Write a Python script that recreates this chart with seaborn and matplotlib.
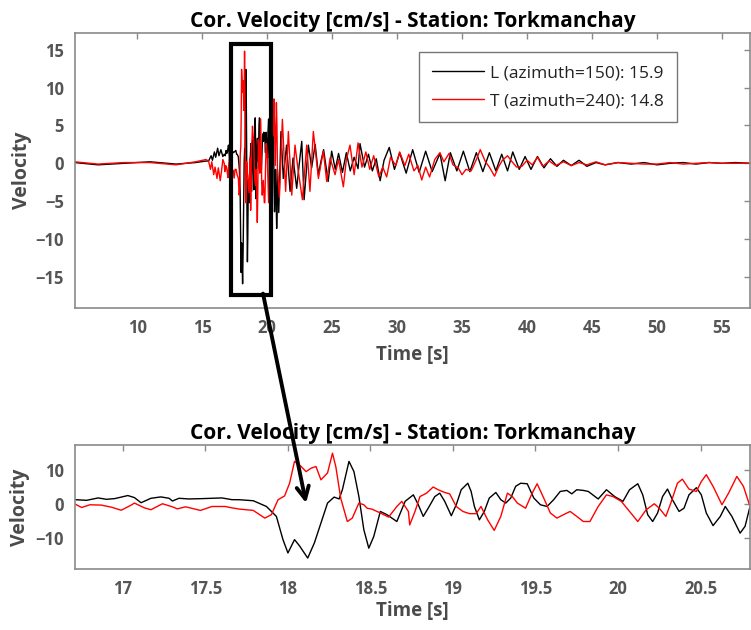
import numpy as np
import pandas as pd
import matplotlib
matplotlib.use('Agg')
import matplotlib.pyplot as plt
import matplotlib.patches as patches
import seaborn as sns

# L component (black) - quiet part, detail window, coda
t_L_pre = [5.2, 7.0, 9.0, 11.0, 13.0, 14.5, 15.3, 15.5, 15.7, 15.8, 15.95, 16.05, 16.2, 16.3, 16.45, 16.6]
v_L_pre = [0.1, -0.2, 0.0, 0.2, -0.1, 0.1, 0.3, 0.3, 1.0, 0.4, 1.5, 0.8, 2.0, 1.0, 1.8, 0.9]

t_L_zoom = [16.707, 16.78, 16.85, 16.9, 16.95, 17.03, 17.07, 17.11, 17.17, 17.23, 17.28, 17.3, 17.34, 17.4, 17.48,
            17.6, 17.66, 17.707, 17.79, 17.87, 17.93, 17.97, 18.0, 18.04, 18.07, 18.12, 18.16, 18.2, 18.24, 18.28,
            18.31, 18.33, 18.37, 18.4, 18.43, 18.46, 18.49, 18.52, 18.56, 18.6, 18.66, 18.71, 18.76, 18.79, 18.82,
            18.85, 18.89, 18.92, 18.95, 18.99, 19.02, 19.05, 19.09, 19.11, 19.13, 19.16, 19.19, 19.22, 19.26, 19.29,
            19.32, 19.35, 19.38, 19.41, 19.45, 19.49, 19.53, 19.57, 19.61, 19.65, 19.69, 19.72, 19.75, 19.79, 19.82,
            19.88, 19.93, 19.98, 20.03, 20.07, 20.12, 20.15, 20.18, 20.21, 20.24, 20.27, 20.3, 20.33, 20.37, 20.4,
            20.43, 20.475, 20.505, 20.535, 20.576, 20.62, 20.65, 20.69, 20.74, 20.77, 20.8]
v_L_zoom = [1.2, 1.0, 1.7, 1.3, 1.5, 2.4, 1.8, 0.3, 1.6, 2.0, 1.6, 0.8, 1.6, 1.4, 1.5,
            1.7, 1.2, 1.17, 0.88, -0.8, -3.7, -10.5, -14.4, -10.5, -12.3, -15.9, -11.5, -5.6, 0.2, 1.95,
            1.4, 4.1, 12.4, 9.4, 2.1, -7.6, -13.0, -9.6, -2.25, -3.2, -5.2, 0.7, 2.6, -0.3, -3.7,
            -1.3, 2.1, 3.1, 0.7, -3.5, -0.3, 4.1, 6.0, 3.6, -0.8, -4.7, -2.25, 1.66, 3.3, 1.17,
            0.2, 1.66, 5.1, 6.0, 5.85, 1.66, -0.3, -0.8, 1.17, 3.6, 3.9, 2.9, 4.1, 3.9, 3.6,
            1.4, 4.1, 2.1, 0.7, 4.1, 5.85, 2.6, -3.2, -5.2, -2.7, 2.1, 4.3, 1.17, -2.25, -1.3,
            2.6, 4.7, 2.6, -2.7, -6.4, -3.7, -0.8, -3.7, -8.6, -6.6, -0.8]

t_L_post = [20.9, 21.07, 21.25, 21.5, 21.77, 22.0, 22.28, 22.45, 22.67, 22.85, 23.18, 23.43, 23.7, 23.95, 24.15,
            24.35, 24.7, 24.97, 25.25, 25.5, 25.8, 26.1, 26.4, 26.7, 27.0, 27.15, 27.5, 27.8, 28.1, 28.4,
            28.7, 29.0, 29.4, 29.8, 30.2, 30.7, 31.2, 31.7, 32.2, 32.7, 33.3, 33.7, 34.1, 34.6, 35.1,
            35.6, 36.1, 36.6, 37.1, 37.6, 38.05, 38.5, 38.9, 39.4, 39.85, 40.3, 40.8, 41.3, 41.8, 42.3,
            42.8, 43.4, 44.0, 44.6, 45.3, 46.0, 47.0, 48.0, 49.0, 50.0, 51.0, 52.0, 53.0, 54.0, 55.0,
            56.0, 57.2]
v_L_post = [-6.5, 4.2, -2.0, 2.4, -3.7, 0.7, -3.3, -0.5, 2.9, -4.8, 2.4, -0.6, 2.5, -1.5, 0.3,
            1.8, -2.4, 1.6, -0.8, 1.3, -1.2, 1.4, -1.0, 0.8, -0.7, 2.6, -0.5, 1.2, -1.0, 0.6,
            -2.3, 0.4, 2.1, -0.8, 1.4, -1.3, 1.8, -1.2, 1.6, -1.1, 1.3, -2.3, 1.4, -1.0, 1.6,
            -1.1, 1.4, -1.1, 1.4, -1.0, 1.2, -1.0, 1.5, -0.8, 0.9, -0.8, 0.9, -0.6, 0.6, -0.4,
            0.4, -0.3, 0.4, -0.4, 0.1, -0.2, 0.1, -0.1, 0.1, -0.2, 0.0, 0.1, -0.1, 0.1, 0.0,
            0.1, 0.0]

# T component (red)
t_T_pre = [5.2, 7.0, 9.0, 11.0, 13.0, 14.5, 15.3, 15.5, 15.65, 15.75, 15.9, 16.0, 16.15, 16.25, 16.4, 16.5, 16.6]
v_T_pre = [0.2, -0.1, 0.1, 0.1, -0.2, 0.2, 0.5, 0.3, -0.8, 0.2, -1.5, -0.5, -2.0, -0.6, -2.3, -1.0, 0.5]

t_T_zoom = [16.707, 16.75, 16.8, 16.87, 16.93, 16.99, 17.05, 17.07, 17.13, 17.17, 17.24, 17.3, 17.33, 17.38, 17.47,
            17.54, 17.62, 17.66, 17.707, 17.79, 17.86, 17.9, 17.94, 17.98, 18.01, 18.04, 18.08, 18.11, 18.14, 18.17,
            18.2, 18.24, 18.27, 18.29, 18.32, 18.36, 18.39, 18.43, 18.46, 18.48, 18.51, 18.56, 18.61, 18.66, 18.69,
            18.73, 18.738, 18.77, 18.8, 18.84, 18.88, 18.91, 18.95, 18.98, 19.02, 19.06, 19.1, 19.14, 19.17, 19.21,
            19.25, 19.29, 19.33, 19.36, 19.39, 19.44, 19.48, 19.51, 19.55, 19.59, 19.63, 19.67, 19.71, 19.75, 19.79,
            19.83, 19.88, 19.93, 19.97, 20.02, 20.07, 20.12, 20.17, 20.22, 20.25, 20.29, 20.32, 20.36, 20.39, 20.43,
            20.475, 20.505, 20.535, 20.576, 20.63, 20.67, 20.72, 20.76, 20.8]
v_T_zoom = [0.0, -1.1, -0.3, -0.4, -1.0, -1.9, -0.4, 0.2, -1.2, -1.75, 0.0, -0.9, -1.5, -0.9, -1.95,
            -0.8, -0.8, -1.2, -1.57, -1.95, -4.2, -3.2, 1.17, 2.3, 6.0, 12.4, 10.9, 9.4, 10.4, 10.9,
            7.0, 9.0, 14.8, 10.9, 1.6, -5.2, -4.2, 0.2, -0.3, -1.3, -1.6, -2.7, -3.9, -0.8, 0.7,
            -2.25, -6.2, -2.25, 2.1, 3.1, 4.9, 4.1, 3.3, 2.9, -0.8, -2.25, -2.9, -2.9, -0.8, -4.7,
            -7.8, -3.7, 3.1, 2.1, 0.2, -1.3, 3.1, 5.85, 1.66, -2.7, -4.2, -3.2, -2.25, -3.7, -5.2,
            -5.2, -0.8, 2.6, 2.1, 0.7, -2.25, -5.2, -1.8, 0.0, -1.3, -3.7, 0.2, 6.0, 7.2, 4.3,
            3.6, 6.5, 8.5, 5.1, -0.3, 3.1, 8.0, 5.1, -0.8]

t_T_post = [20.95, 21.18, 21.43, 21.64, 21.9, 22.15, 22.4, 22.72, 23.05, 23.3, 23.56, 23.95, 24.33, 24.59, 24.85,
            25.23, 25.5, 25.87, 26.1, 26.38, 26.7, 27.0, 27.3, 27.6, 27.9, 28.2, 28.6, 28.9, 29.2, 29.5,
            29.9, 30.2, 30.6, 30.9, 31.3, 31.6, 31.9, 32.2, 32.5, 32.9, 33.3, 33.6, 34.0, 34.3, 34.7,
            35.0, 35.3, 35.7, 36.1, 36.4, 36.8, 37.1, 37.5, 37.8, 38.1, 38.5, 38.8, 39.2, 39.6, 40.0,
            40.4, 40.8, 41.2, 41.7, 42.2, 42.8, 43.4, 44.0, 44.6, 45.3, 46.0, 47.0, 48.0, 49.0, 50.0,
            51.0, 52.0, 53.0, 54.0, 55.0, 56.0, 57.2]
v_T_post = [-4.5, 5.8, -3.7, 4.2, -4.2, 2.4, -1.0, -4.8, 2.4, -3.7, 4.2, -2.0, 1.6, -2.4, 0.7,
            -1.5, 0.5, -3.1, 0.5, 2.4, -1.5, 2.7, -0.5, 1.5, -0.8, 1.0, -1.8, -0.5, -1.8, 0.8,
            -0.3, 1.5, -0.3, 1.2, -1.0, -0.3, -2.2, -0.5, -1.8, 0.5, 1.4, 0.2, 1.3, -0.2, -0.6,
            -1.5, -0.8, -1.0, 0.5, 1.8, 0.2, -0.5, -1.7, -0.5, 0.4, 1.0, 0.3, -0.5, -0.4, 0.4,
            -0.2, 0.8, -0.4, 0.3, -0.3, 0.2, -0.3, 0.1, -0.2, 0.2, -0.2, 0.1, 0.0, -0.1, -0.1,
            0.1, -0.1, 0.0, 0.1, 0.0, 0.0, 0.0]

label_L = 'L (azimuth=150): 15.9'
label_T = 'T (azimuth=240): 14.8'
title = 'Cor. Velocity [cm/s] - Station: Torkmanchay'

df_L = pd.DataFrame({'t': t_L_pre + t_L_zoom + t_L_post, 'v': v_L_pre + v_L_zoom + v_L_post})
df_T = pd.DataFrame({'t': t_T_pre + t_T_zoom + t_T_post, 'v': v_T_pre + v_T_zoom + v_T_post})

sns.set_style('white')
plt.rcParams['font.family'] = ['Open Sans', 'DejaVu Sans']
plt.rcParams['xtick.direction'] = 'in'
plt.rcParams['ytick.direction'] = 'in'

gray_txt = '#555555'
spine_c = '#8a8a8a'

fig = plt.figure(figsize=(7.51, 6.30), dpi=100)
ax1 = fig.add_axes([0.0999, 0.5111, 0.8988, 0.4365])
ax2 = fig.add_axes([0.0999, 0.0968, 0.8988, 0.1969])

for ax in (ax1, ax2):
    sns.lineplot(data=df_L, x='t', y='v', ax=ax, color='black', lw=1.0, sort=False,
                 estimator=None, label=label_L if ax is ax1 else None)
    sns.lineplot(data=df_T, x='t', y='v', ax=ax, color='red', lw=1.0, sort=False,
                 estimator=None, label=label_T if ax is ax1 else None)
    ax.set_ylim(-19.1, 17.2)
    ax.set_title(title, fontsize=15, fontweight='bold', color='black', pad=4)
    ax.set_xlabel('Time [s]', fontsize=13.5, fontweight='bold', color='#4a4a4a')
    ax.set_ylabel('Velocity', fontsize=14, fontweight='bold', color='#4a4a4a')
    ax.tick_params(axis='both', which='both', direction='in', top=True, right=True,
                   length=4, width=1, color=spine_c, labelcolor=gray_txt, labelsize=12, pad=8)
    for s in ax.spines.values():
        s.set_color(spine_c)
        s.set_linewidth(1.2)

ax1.set_xlim(5.23, 57.15)
ax1.set_xticks(range(10, 56, 5))
ax1.set_yticks(range(-15, 16, 5))
ax1.yaxis.set_label_coords(-0.0785, 0.5)
ax1.xaxis.set_label_coords(0.5, -0.171)

ax2.set_xlim(16.71, 20.8)
ax2.set_xticks([17, 17.5, 18, 18.5, 19, 19.5, 20, 20.5])
ax2.set_xticklabels(['17', '17.5', '18', '18.5', '19', '19.5', '20', '20.5'])
ax2.set_yticks([-10, 0, 10])
ax2.yaxis.set_label_coords(-0.0815, 0.5)
ax2.xaxis.set_label_coords(0.5, -0.339)

for ax in (ax1, ax2):
    for lbl in ax.get_xticklabels() + ax.get_yticklabels():
        lbl.set_fontweight('bold')
    ax.xaxis.label.set_verticalalignment('center')
    ax.yaxis.label.set_verticalalignment('center')

leg = ax1.legend(loc='upper right', bbox_to_anchor=(0.892, 0.931), borderaxespad=0,
                 fancybox=False, frameon=True, fontsize=12.5, handlelength=3.0,
                 labelspacing=0.7, borderpad=0.75, handletextpad=0.35)
leg.get_frame().set_edgecolor('#555555')
leg.get_frame().set_linewidth(1.0)
for txt in leg.get_texts():
    txt.set_color('#222222')

# zoom box on the upper panel
rect = patches.Rectangle((17.23, -17.4), 3.07, 33.2, fill=False, edgecolor='black',
                         lw=3, zorder=5, clip_on=False)
ax1.add_patch(rect)

# arrow from the box down to the detail panel
ax2.annotate('', xy=(18.11, 0.2), xycoords=ax2.transData,
             xytext=(19.69, -17.2), textcoords=ax1.transData,
             arrowprops=dict(arrowstyle='->', lw=2.8, color='black', mutation_scale=22,
                             shrinkA=0, shrinkB=0),
             annotation_clip=False, zorder=10)

fig.savefig('out.png', dpi=100)
